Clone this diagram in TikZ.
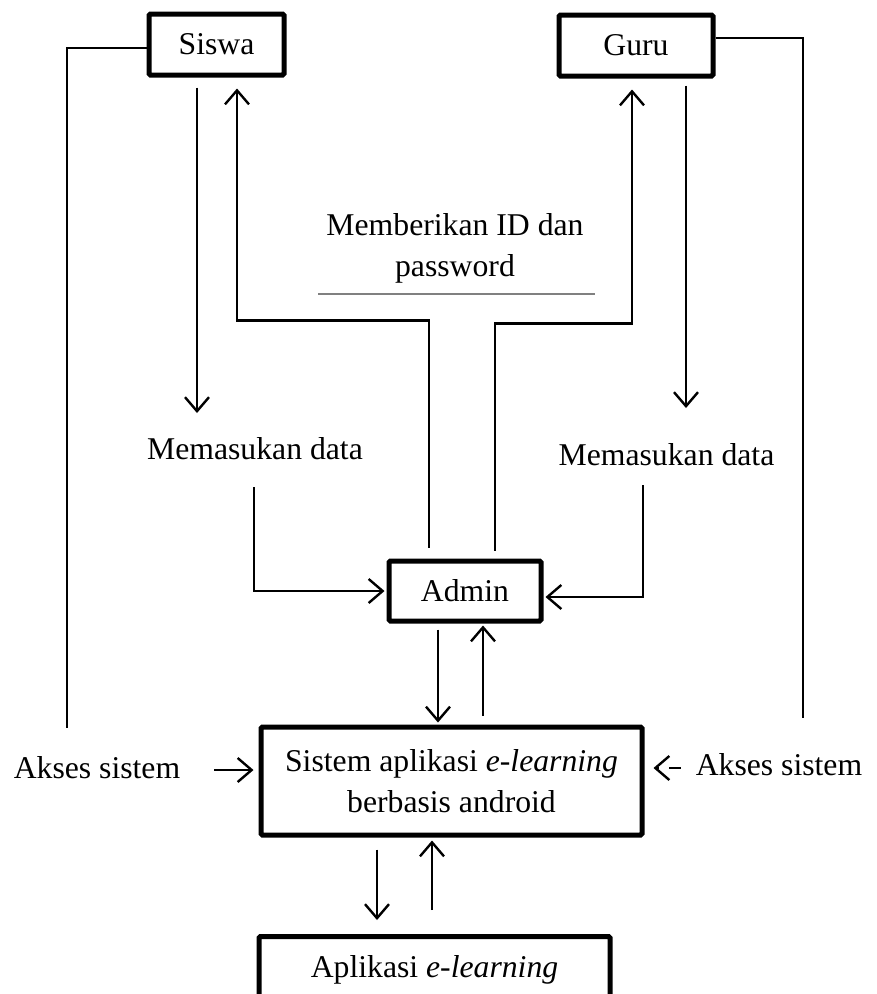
\documentclass[tikz,border=0pt]{standalone}
\usepackage{fontspec}
\setmainfont{Liberation Serif}
\usetikzlibrary{arrows.meta}
\begin{document}
\begin{tikzpicture}[x=1pt,y=-1pt,
  font=\fontsize{31.7}{41}\selectfont,
  box/.style={draw, line width=5pt, rounded corners=1.5pt, inner sep=0pt, align=center},
  arr/.style={line width=2.4pt, -{Straight Barb[length=14pt,width=24pt,line width=2.4pt]}},
  plain/.style={line width=1.8pt},
  lbl/.style={inner sep=3pt, align=center},
]
\useasboundingbox (0,0) rectangle (877,994);

% boxes
\node[box, minimum width=135pt, minimum height=61pt] (siswa) at (216.5,44.5) {Siswa};
\node[box, minimum width=154pt, minimum height=61pt] (guru) at (636,45.5) {Guru};
\node[box, minimum width=152pt, minimum height=60pt] (admin) at (465,591) {Admin};
\node[box, minimum width=381pt, minimum height=108pt] (sys) at (451.5,781) {Sistem aplikasi \textit{e-learning}\\berbasis android};
\node[box, minimum width=351pt, minimum height=67pt, anchor=north] (app) at (434.5,934) {Aplikasi \textit{e-learning}};

% labels
\node[lbl] (id) at (455,248) {Memberikan ID dan\\password};
\node[lbl] (ml) at (255,449) {Memasukan data};
\node[lbl] (mr) at (666.5,455) {Memasukan data};
\node[lbl] (aksL) at (97,768) {Akses sistem};
\node[lbl] (aksR) at (779,765) {Akses sistem};

% free ends
\coordinate (sl) at (67,728);
\coordinate (gr) at (803,718);
\coordinate (sd) at (197,413);
\coordinate (gd) at (686,408);
\coordinate (mlo) at (254,487);
\coordinate (mro) at (643,485);
\coordinate (gl1) at (318,294);
\coordinate (gl2) at (595,294);

% grey rule under the ID label
\draw[line width=1.3pt, gray] (gl1) -- (gl2);

% side lines
\draw[plain] ([yshift=-3.5pt]siswa.west) -| (sl);
\draw[plain] ([yshift=7.5pt]guru.east) -| (gr);

% siswa / guru down arrows
\draw[arr] ([xshift=-19.5pt,yshift=-10pt]siswa.south) -- (sd);
\draw[arr] ([xshift=50pt,yshift=-7pt]guru.south) -- (gd);

% admin up to siswa / guru
\draw[arr] ([xshift=-36pt,yshift=11pt]admin.north) -- ++(0,-227) -| ([xshift=20.5pt,yshift=-11pt]siswa.south);
\draw[arr] ([xshift=30pt,yshift=8pt]admin.north) -- ++(0,-227) -| ([xshift=-4pt,yshift=-11pt]guru.south);

% memasukan data to admin
\draw[arr] (mlo) |- ([xshift=-2pt]admin.west);
\draw[arr] (mro) |- ([xshift=2pt,yshift=-6pt]admin.east);

% admin <-> sistem
\draw[arr] ([xshift=-27pt,yshift=-6pt]admin.south) -- ([xshift=-13.5pt,yshift=2pt]sys.north);
\draw[arr] ([xshift=31.5pt,yshift=9pt]sys.north) -- ([xshift=18pt,yshift=-2pt]admin.south);

% sistem <-> aplikasi
\draw[arr] ([xshift=-74.5pt,yshift=-12pt]sys.south) -- ([xshift=-57.5pt,yshift=14pt]app.north);
\draw[arr] ([xshift=-2.5pt,yshift=24pt]app.north) -- ([xshift=-19.5pt,yshift=-3pt]sys.south);

% akses sistem
\draw[arr] ([xshift=31pt,yshift=-2pt]aksL.east) -- ([xshift=-5pt]sys.west |- 0,770);
\draw[arr, dash pattern=on 12pt off 10pt] ([xshift=-12pt,yshift=-3pt]aksR.west) -- ([xshift=9pt]sys.east |- 0,768);
\end{tikzpicture}
\end{document}
